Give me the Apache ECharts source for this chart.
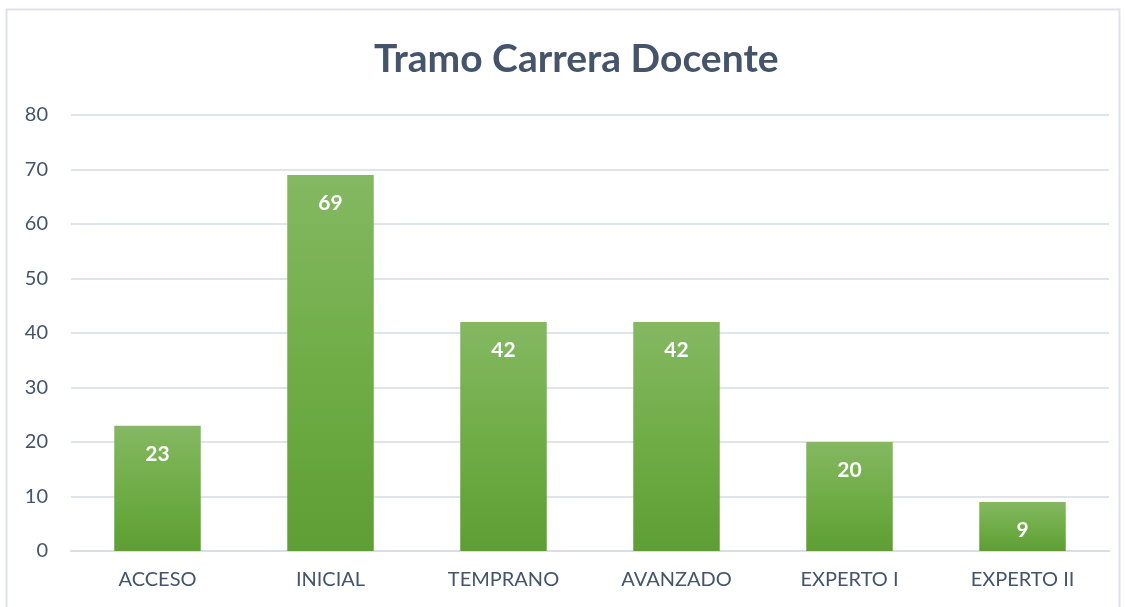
<!DOCTYPE html>
<html>
<head>
<meta charset="utf-8">
<script src="https://cdn.jsdelivr.net/npm/echarts@6/dist/echarts.min.js"></script>
<style>
  html, body { margin: 0; padding: 0; background: #fff; }
  #chart { width: 1125px; height: 607px; }
</style>
</head>
<body>
<div id="chart"></div>
<script>
// datos del gráfico
const categories = ['ACCESO', 'INICIAL', 'TEMPRANO', 'AVANZADO', 'EXPERTO I', 'EXPERTO II'];
const values = [23, 69, 42, 42, 20, 9];

const textColor = '#44546A';
const font = 'Lato, "Open Sans", sans-serif';

const chart = echarts.init(document.getElementById('chart'));

chart.setOption({
  animation: false,
  title: {
    text: 'Tramo Carrera Docente',
    left: 369,
    top: 35,
    textStyle: { color: textColor, fontSize: 39, fontWeight: 'bold', fontFamily: font }
  },
  graphic: [{
    type: 'rect',
    shape: { x: 6.5, y: 9.5, width: 1113, height: 620 },
    style: { fill: 'none', stroke: '#dde1e8', lineWidth: 2 },
    silent: true
  }],
  grid: { left: 71, right: 16, top: 115, bottom: 56 },
  xAxis: {
    type: 'category',
    data: categories,
    axisTick: { show: false },
    axisLine: { lineStyle: { color: '#d9dde4', width: 2 } },
    axisLabel: { color: textColor, fontSize: 20, fontFamily: font, margin: 19 }
  },
  yAxis: {
    type: 'value',
    min: 0,
    max: 80,
    interval: 10,
    axisLine: { show: false },
    axisTick: { show: false },
    splitLine: { lineStyle: { color: '#dfe3ea', width: 2 } },
    axisLabel: { color: textColor, fontSize: 20, fontFamily: font, margin: 23 }
  },
  series: [{
    type: 'bar',
    data: values,
    barWidth: '50%',
    itemStyle: {
      color: new echarts.graphic.LinearGradient(0, 0, 0, 1, [
        { offset: 0, color: '#84b862' },
        { offset: 0.5, color: '#70ad47' },
        { offset: 1, color: '#5e9e33' }
      ])
    },
    label: {
      show: true,
      position: 'insideTop',
      distance: 18,
      color: '#fff',
      fontSize: 21,
      fontWeight: 'bold',
      fontFamily: font
    }
  }]
});
</script>
</body>
</html>
